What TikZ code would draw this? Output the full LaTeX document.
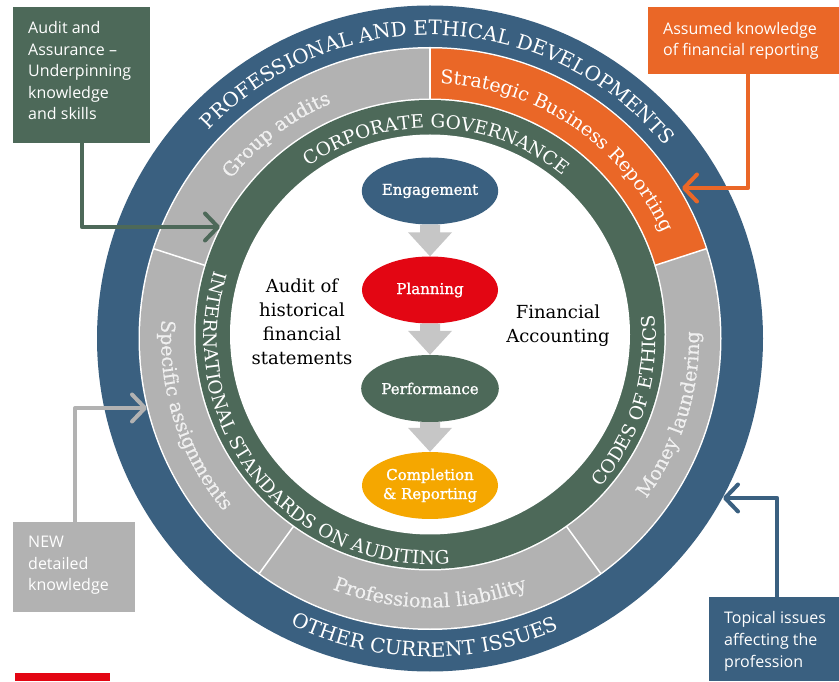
\documentclass[tikz,border=0pt]{standalone}
\usepackage{fontspec}
\setmainfont{DejaVu Serif}
\newfontfamily\boxfont{Open Sans}
\newfontfamily\stagefont{DejaVu Serif}[FakeBold=1.2]
\newfontfamily\grayringfont{DejaVu Serif}[FakeBold=0.5]
\usetikzlibrary{decorations.text,arrows.meta,shapes.geometric,calc}
\definecolor{ringblue}{HTML}{3A6080}
\definecolor{ringgray}{HTML}{B2B2B2}
\definecolor{ringgreen}{HTML}{4D6959}
\definecolor{ringorange}{HTML}{EA6727}
\definecolor{accred}{HTML}{E30613}
\definecolor{accyellow}{HTML}{F5A700}
\definecolor{arrowgray}{HTML}{C6C6C6}
\definecolor{graytext}{HTML}{F0F0F0}
\newcommand\fBlue{\fontsize{20}{20}\selectfont\color{white}}
\newcommand\fOrange{\fontsize{19}{19}\selectfont\color{white}}
\newcommand\fGray{\grayringfont\fontsize{19.3}{19.3}\selectfont\color{graytext}}
\newcommand\fGreen{\fontsize{18.5}{18.5}\selectfont\color{white}}
\newcommand\ringtext[6]{%
  \path[decorate, decoration={text along path, text align=center, text={|#5|#6}}]
    ($(#1)+(#3:#2)$) arc[start angle=#3, end angle=#4, radius=#2];}
\newcommand\blkarrow[2]{%
  \fill[arrowgray] ($(#1.south)+(-10,0)$) -- ($(#2.north)+(-10,24)$) -- ($(#2.north)+(-22,24)$)
    -- (#2.north) -- ($(#2.north)+(22,24)$) -- ($(#2.north)+(10,24)$) -- ($(#1.south)+(10,0)$) -- cycle;}
\tikzset{
  stage/.style={ellipse, minimum width=136pt, minimum height=67pt, inner sep=0pt,
    text=white, font=\stagefont\fontsize{15}{19}\selectfont, align=center},
  infobox/.style={rectangle, inner sep=0pt, anchor=north west},
  boxtext/.style={inner sep=0pt, anchor=base west, align=left, text=white,
    font=\boxfont\fontsize{16}{21.5}\selectfont},
  centertext/.style={inner sep=0pt, anchor=base, align=center, text=black,
    font=\fontsize{18}{24}\selectfont},
  conn/.style={line width=4pt, line cap=round, line join=round,
    -{Straight Barb[length=13pt,width=27pt,round]}},
}
\begin{document}
\begin{tikzpicture}[x=1pt,y=1pt]
\useasboundingbox (0,0) rectangle (839,681);
\coordinate (O) at (430,342.5);
\coordinate (I) at (430,346.5);
% rings
\fill[ringblue] (O) circle[radius=333];
\fill[white] (O) circle[radius=291.5];
\fill[ringgray] (O) circle[radius=290];
\fill[ringorange] (O) -- ($(O)+(18:290)$) arc[start angle=18, end angle=90, radius=290] -- cycle;
\foreach \a in {18,90,162,234,306}
  \draw[white, line width=1.5pt] (O) -- ($(O)+(\a:291)$);
\fill[white] (I) circle[radius=236];
\fill[ringgreen] (I) circle[radius=234.5];
\fill[white] (I) circle[radius=200];
% ring texts
\ringtext{O}{303.5}{168}{8}{\fBlue}{PROFESSIONAL AND ETHICAL DEVELOPMENTS}
\ringtext{O}{318.5}{189}{349}{\fBlue}{OTHER CURRENT ISSUES}
\ringtext{O}{255}{187}{67}{\fGray}{Group audits}
\ringtext{O}{255}{136}{-24}{\fOrange}{Strategic Business Reporting}
\ringtext{O}{269}{-77.5}{42.5}{\fGray}{Money laundering}
\ringtext{O}{269}{210}{330}{\fGray}{Professional liability}
\ringtext{O}{269}{138}{258}{\fGray}{Specific assignments}
\ringtext{O}{210.5}{168}{8}{\fGreen}{CORPORATE GOVERNANCE}
\ringtext{O}{226}{-77.5}{42.5}{\fGreen}{CODES OF ETHICS}
\ringtext{O}{226}{138.7}{298.7}{\fGreen}{INTERNATIONAL STANDARDS ON AUDITING}
% stages
\node[stage, fill=ringblue] (eng) at (430,490) {Engagement};
\node[stage, fill=accred] (plan) at (430,391) {Planning};
\node[stage, fill=ringgreen] (perf) at (430,292.5) {Performance};
\node[stage, fill=accyellow] (comp) at (430,195.5) {Completion\\\& Reporting};
\blkarrow{eng}{plan}
\blkarrow{plan}{perf}
\blkarrow{perf}{comp}
% centre labels (base anchor = last line)
\node[centertext] (audit) at (302,316) {Audit of\\historical\\financial\\statements};
\node[centertext] (finacc) at (558,338) {Financial\\Accounting};
% boxes
\node[infobox, fill=ringgreen, minimum width=137pt, minimum height=136pt] (gbox) at (13,674) {};
\node[boxtext] (gtext) at (28,561) {Audit and\\Assurance –\\Underpinning\\knowledge\\and skills};
\node[infobox, fill=ringorange, minimum width=191pt, minimum height=67pt] (obox) at (648,674) {};
\node[boxtext] (otext) at (663,625) {Assumed knowledge\\of financial reporting};
\node[infobox, fill=ringgray, minimum width=122pt, minimum height=90pt] (nbox) at (13,159) {};
\node[boxtext] (ntext) at (28,90) {NEW\\detailed\\knowledge};
\node[infobox, fill=ringblue, minimum width=130pt, minimum height=84pt] (bbox) at (709,84) {};
\node[boxtext] (btext) at (724,14) {Topical issues\\affecting the\\profession};
% connectors
\coordinate (gtip) at (220,454);
\coordinate (otip) at (682,493);
\coordinate (ntip) at (147,273);
\coordinate (btip) at (723,183);
\draw[conn, ringgreen] (gbox.south) |- (gtip);
\draw[conn, ringorange] ([xshift=4.5pt]obox.south) |- (otip);
\draw[conn, ringgray] ([xshift=1pt]nbox.north) |- (ntip);
\draw[conn, ringblue] ([xshift=3pt]bbox.north) |- (btip);
% red bar
\fill[accred] (15,0) rectangle (110,8);
\end{tikzpicture}
\end{document}
